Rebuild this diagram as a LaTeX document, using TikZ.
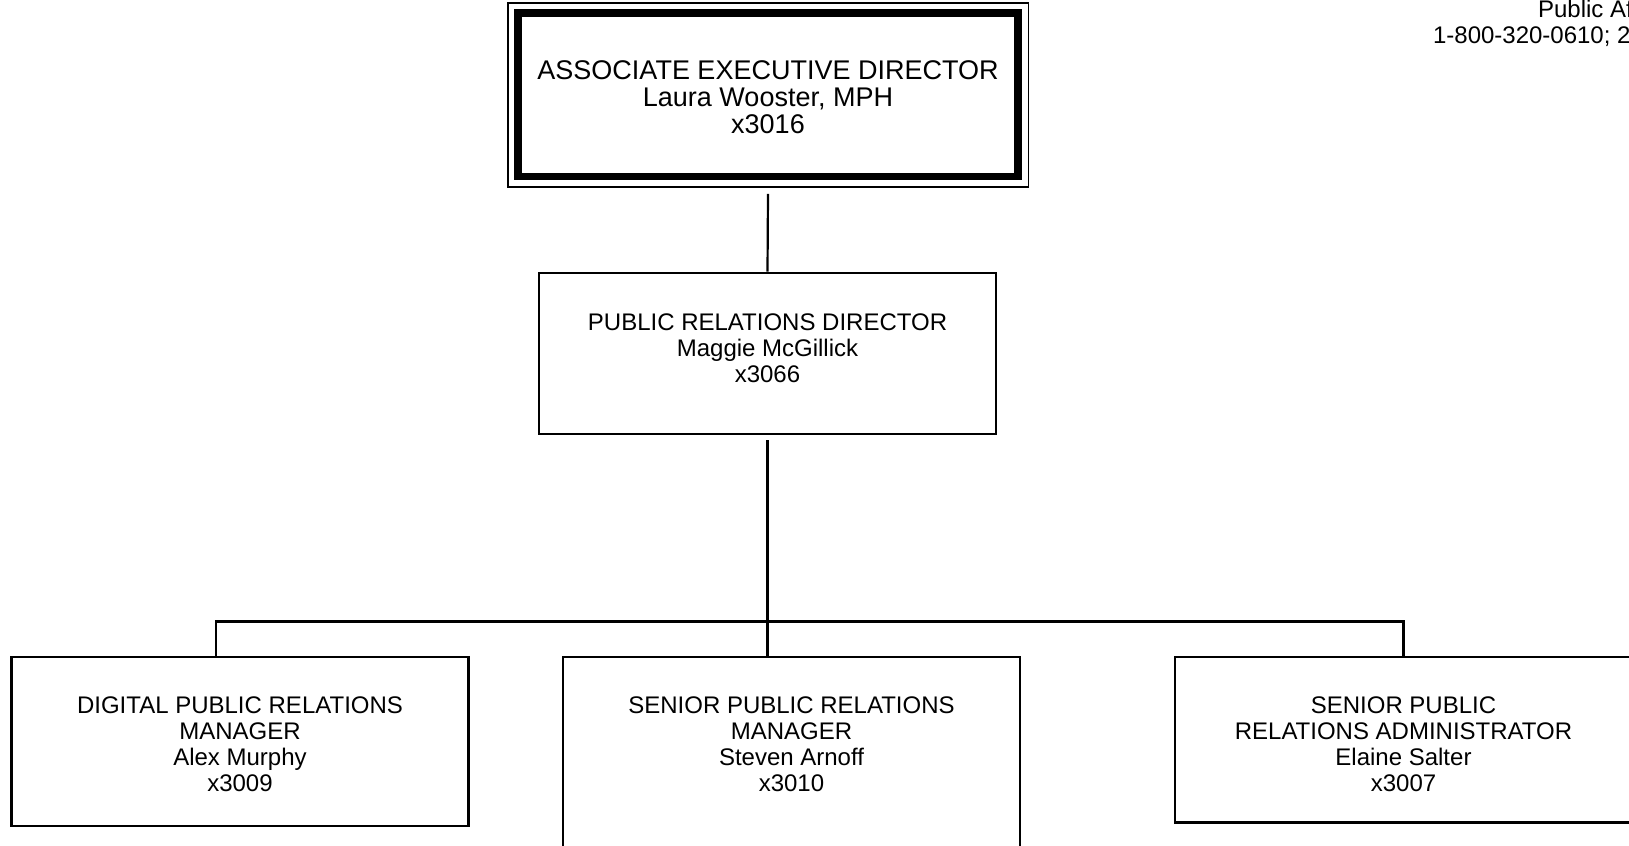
\documentclass[tikz,border=0pt]{standalone}
\usepackage{fontspec}
\setmainfont{Liberation Sans}
\begin{document}
\begin{tikzpicture}[x=0.5pt,y=-0.5pt,
   box/.style={draw,line width=1.4pt,minimum width=228.5pt,inner sep=0pt},
   conn/.style={line width=1.1pt},
   lbl/.style={align=center,font=\fontsize{12}{13}\selectfont},
   toplbl/.style={align=center,font=\fontsize{13.5}{13.5}\selectfont}]
   \useasboundingbox (0,0) rectangle (1629,846);

   \node[anchor=base west,font=\fontsize{12}{13}\selectfont] (pa) at (1531,18) {Public Af};
   \node[anchor=base west,font=\fontsize{12}{13}\selectfont] (phone) at (1426,43.5) {1-800-320-0610; 2};

   \node[draw,line width=3.8pt,minimum width=250pt,minimum height=81.75pt,inner sep=0pt] (aed) at (768,94.75) {};
   \draw[line width=0.8pt] ([shift={(-6.5,-6.5)}]aed.north west) rectangle ([shift={(6.5,6.5)}]aed.south east);
   \node[toplbl] (aedT) at (768,97.5) {ASSOCIATE EXECUTIVE DIRECTOR\\Laura Wooster, MPH\\x3016};

   \node[box,minimum height=80.5pt] (pr) at (767.5,353.5) {};
   \node[lbl] (prT) at (767.5,348) {PUBLIC RELATIONS DIRECTOR\\Maggie McGillick\\x3066};

   \node[box,minimum height=84.5pt] (dpm) at (240,741.5) {};
   \node[lbl] (dpmT) at (240,744.3) {DIGITAL PUBLIC RELATIONS\\MANAGER\\Alex Murphy\\x3009};

   \node[box,minimum height=95pt] (spm) at (791.5,752) {};
   \node[lbl] (spmT) at (791.5,744.3) {SENIOR PUBLIC RELATIONS\\MANAGER\\Steven Arnoff\\x3010};

   \node[box,minimum height=82.75pt] (spra) at (1403.5,739.75) {};
   \node[lbl] (spraT) at (1403.5,744.3) {SENIOR PUBLIC\\RELATIONS ADMINISTRATOR\\Elaine Salter\\x3007};

   \draw[conn] ([yshift=-6.75pt]aed.south) -- (pr.north);
   \draw[conn] ([yshift=-2.5pt]pr.south) -- (pr.south |- spm.north);

   \coordinate (busL) at (216,621.5);
   \coordinate (busR) at (spra.north |- busL);
   \draw[conn] (dpm.north -| busL) -- (busL) -- (busR) -- (spra.north);
\end{tikzpicture}
\end{document}
